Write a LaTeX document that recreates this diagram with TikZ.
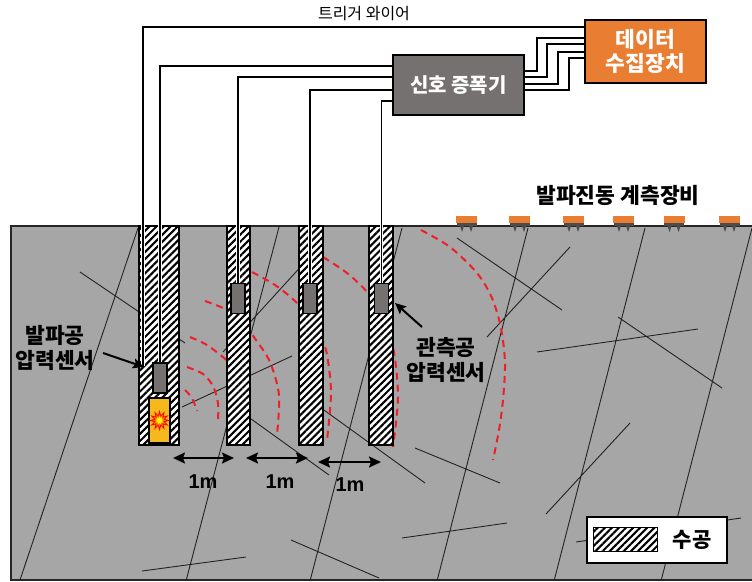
\documentclass[tikz,border=0pt]{standalone}
\usepackage{fontspec}
\setmainfont{Noto Sans CJK KR}
\newfontfamily\latin{Liberation Sans}
\usetikzlibrary{patterns.meta,arrows.meta,shapes.geometric}

\definecolor{groundgray}{RGB}{166,166,166}
\definecolor{devgray}{RGB}{118,113,113}
\definecolor{devorange}{RGB}{233,125,50}
\definecolor{chargeyellow}{RGB}{245,185,30}
\definecolor{wavered}{RGB}{240,30,40}
\definecolor{crackgray}{RGB}{35,35,35}

\tikzset{
  hole/.style={draw=black, line width=2pt, inner sep=0pt, preaction={fill=white},
    pattern={Lines[angle=45,distance=5pt,line width=2.1pt]}},
  sensorbox/.style={draw=black, line width=1.5pt, fill=devgray, inner sep=0pt,
    minimum width=14pt, minimum height=30pt},
  chargebox/.style={draw=black, line width=1.5pt, fill=chargeyellow, inner sep=0pt,
    minimum width=21pt, minimum height=45pt},
  crack/.style={draw=crackgray, line width=0.9pt},
  wavefront/.style={draw=wavered, line width=2pt, dash pattern=on 7pt off 5pt},
  wire/.style={draw=black, line width=1.8pt, preaction={draw=white, line width=3.6pt}},
  plainwire/.style={draw=black, line width=1.8pt},
  devbox/.style={draw=black, line width=2.5pt, inner sep=0pt, text=white, align=center},
  pointer/.style={line width=2pt, -{Stealth[length=11pt,width=10pt,inset=2pt]}},
  spacing/.style={line width=2pt, {Stealth[length=12pt,width=11pt,inset=2pt]}-{Stealth[length=12pt,width=11pt,inset=2pt]}},
  lbl/.style={font=\bfseries\fontsize{21.5}{25}\selectfont, align=center, inner sep=0pt},
  dimlbl/.style={font=\latin\bfseries\fontsize{20}{24}\selectfont, inner sep=0pt},
}

\begin{document}
\begin{tikzpicture}[x=1pt,y=-1pt]
\useasboundingbox (0,0) rectangle (752,581);

% ground block
\draw[fill=groundgray, draw=black!85, line width=1.5pt] (11,226) rectangle (770,580);

% rock joints
\draw[crack]
  (138,228) -- (20,580)
  (80,272) -- (185,343)
  (182,407) -- (292,356)
  (305,262) -- (223,352)
  (279,227) -- (186,581)
  (240,411) -- (329,475)
  (310,400) -- (425,483)
  (402,228) -- (310,581)
  (528,228) -- (437,581)
  (645,228) -- (554,581)
  (752,228) -- (661,581)
  (457,238) -- (562,310)
  (570,247) -- (487,337)
  (537,352) -- (698,329)
  (618,317) -- (722,388)
  (630,423) -- (546,514)
  (415,448) -- (500,483)
  (402,538) -- (507,523)
  (291,540) -- (379,578)
  (142,571) -- (246,557)
  (576,542) -- (741,518);

% pressure wave fronts
\draw[wavefront] plot[smooth] coordinates {(185,390) (192,398) (197,411)};
\draw[wavefront] plot[smooth] coordinates {(187,367) (203,374) (213,386) (218,403) (218,421)};
\draw[wavefront] plot[smooth] coordinates {(190,337) (207,345) (224,358) (232,366)};
\draw[wavefront] plot[smooth] coordinates {(205,301) (225,309) (242,322) (256,340) (270,362) (279,395) (277,435)};
\draw[wavefront] plot[smooth] coordinates {(252,272) (275,285) (296,302) (315,325) (326,350) (331,392) (327,440)};
\draw[wavefront] plot[smooth] coordinates {(323,257) (347,273) (367,292) (384,318) (394,352) (398,398) (393,447)};
\draw[wavefront] plot[smooth] coordinates {(421,230) (450,247) (477,273) (492,298) (501,328) (505,363) (503,400) (499,430) (493,460)};

% boreholes
\node[hole, minimum width=40pt, minimum height=219pt] (h1) at (159,335.5) {};
\node[hole, minimum width=23pt, minimum height=219pt] (h2) at (238.5,335.5) {};
\node[hole, minimum width=24pt, minimum height=219pt] (h3) at (311,335.5) {};
\node[hole, minimum width=24pt, minimum height=219pt] (h4) at (381,335.5) {};

% explosive charge
\node[chargebox] (ex) at (159.5,420.5) {};
\node[star, star points=12, star point ratio=1.9, minimum size=18pt, inner sep=0pt,
      fill=orange, draw=red, line width=0.8pt] (burst) at (ex) {};
\node[star, star points=9, star point ratio=1.6, minimum size=8pt, inner sep=0pt,
      fill=yellow] (burstcore) at (ex) {};

% pressure sensors
\node[sensorbox] (bs) at (160,378) {};
\node[sensorbox] (s2) at (238,298.5) {};
\node[sensorbox] (s3) at (310,298.5) {};
\node[sensorbox] (s4) at (381.5,298.5) {};

% surface vibration gauges
\foreach \gx in {466.5,519.5,573.5,623.5,674,729.5}{
  \fill[devorange] (\gx-10.5,215.5) rectangle (\gx+10.5,223);
  \fill[black!70] (\gx-10,223) rectangle (\gx+10,226);
  \fill[black!70] (\gx-6.5,226) -- (\gx-4.5,232) -- (\gx-2.5,226) -- cycle;
  \fill[black!70] (\gx+2.5,226) -- (\gx+4.5,232) -- (\gx+6.5,226) -- cycle;
}
\node[lbl] (gaugelbl) at (618,195) {발파진동 계측장비};

% devices
\coordinate (trig) at (143,366);
\path (458.5,85) coordinate (ampc) (645.5,51.5) coordinate (daqc);
\node[minimum width=131pt, minimum height=60pt, inner sep=0pt] (amp) at (ampc) {};
\node[minimum width=121pt, minimum height=63pt, inner sep=0pt] (daq) at (daqc) {};

% cables
\draw[wire] (trig) |- (daq.west |- 0,27);
\draw[wire] (bs.north) |- (amp.west |- 0,66);
\draw[wire] (s2.north) |- (amp.west |- 0,77);
\draw[wire] (s3.north) |- (amp.west |- 0,90);
\draw[wire] (s4.north) |- (amp.west |- 0,101);
\draw[plainwire] (amp.east |- 0,71) -- (537,71) |- (daq.west |- 0,38);
\draw[plainwire] (amp.east |- 0,77) -- (547,77) |- (daq.west |- 0,44);
\draw[plainwire] (amp.east |- 0,84) -- (558,84) |- (daq.west |- 0,52);
\draw[plainwire] (amp.east |- 0,90) -- (569,90) |- (daq.west |- 0,58);

\node[devbox, fill=devgray, minimum width=131pt, minimum height=60pt,
      font=\bfseries\fontsize{20}{24}\selectfont] (ampbox) at (ampc) {신호 증폭기};
\node[devbox, fill=devorange, minimum width=121pt, minimum height=63pt,
      font=\bfseries\fontsize{21.5}{24}\selectfont] (daqbox) at (daqc) {데이터\\수집장치};
\node[font=\fontsize{16}{18}\selectfont, inner sep=0pt] (triglbl) at (364,14) {트리거 와이어};

% sensor callouts
\node[lbl] (blastlbl) at (55,348) {발파공\\압력센서};
\coordinate (p1a) at (103,353);
\coordinate (p1b) at (144,367);
\draw[pointer] (p1a) -- (p1b);
\node[lbl] (obslbl) at (446,360) {관측공\\압력센서};
\coordinate (p2a) at (422,327);
\coordinate (p2b) at (395,303);
\draw[pointer] (p2a) -- (p2b);

% hole spacing
\coordinate (d1a) at (173,458); \coordinate (d1b) at (234,458);
\coordinate (d2a) at (246,458); \coordinate (d2b) at (308,458);
\coordinate (d3a) at (318,462); \coordinate (d3b) at (381,462);
\draw[spacing] (d1a) -- (d1b);
\draw[spacing] (d2a) -- (d2b);
\draw[spacing] (d3a) -- (d3b);
\node[dimlbl] (m1) at (203,482) {1m};
\node[dimlbl] (m2) at (280,482) {1m};
\node[dimlbl] (m3) at (350,485) {1m};

% legend
\node[draw=black, line width=1.8pt, fill=white, minimum width=140pt, minimum height=46pt, inner sep=0pt] (legend) at (657,540) {};
\node[hole, line width=1.5pt, minimum width=64pt, minimum height=24pt] (legswatch) at (625.5,539.5) {};
\node[lbl, font=\bfseries\fontsize{21}{24}\selectfont] (leglbl) at (692,540) {수공};
\end{tikzpicture}
\end{document}
